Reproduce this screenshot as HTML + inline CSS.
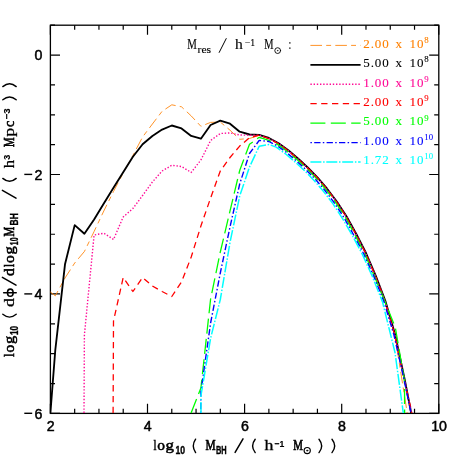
<!DOCTYPE html>
<html><head><meta charset="utf-8"><title>chart</title>
<style>html,body{margin:0;padding:0;background:#fff}svg{display:block}</style>
</head><body>
<svg width="463" height="463" viewBox="0 0 463 463" style="will-change:transform">
<rect width="463" height="463" fill="#fff"/>
<defs><clipPath id="c"><rect x="49.8" y="25.2" width="389.0" height="388.8"/></clipPath></defs>
<path d="M50.40 413.40v-9.6M50.40 25.20v9.6M74.67 413.40v-4.6M74.67 25.20v4.6M98.95 413.40v-4.6M98.95 25.20v4.6M123.22 413.40v-4.6M123.22 25.20v4.6M147.50 413.40v-9.6M147.50 25.20v9.6M171.78 413.40v-4.6M171.78 25.20v4.6M196.05 413.40v-4.6M196.05 25.20v4.6M220.33 413.40v-4.6M220.33 25.20v4.6M244.60 413.40v-9.6M244.60 25.20v9.6M268.88 413.40v-4.6M268.88 25.20v4.6M293.15 413.40v-4.6M293.15 25.20v4.6M317.43 413.40v-4.6M317.43 25.20v4.6M341.70 413.40v-9.6M341.70 25.20v9.6M365.98 413.40v-4.6M365.98 25.20v4.6M390.25 413.40v-4.6M390.25 25.20v4.6M414.53 413.40v-4.6M414.53 25.20v4.6M438.80 413.40v-9.6M438.80 25.20v9.6M50.40 25.20h4.6M438.80 25.20h-4.6M50.40 55.06h9.6M438.80 55.06h-9.6M50.40 84.92h4.6M438.80 84.92h-4.6M50.40 114.78h4.6M438.80 114.78h-4.6M50.40 144.65h4.6M438.80 144.65h-4.6M50.40 174.51h9.6M438.80 174.51h-9.6M50.40 204.37h4.6M438.80 204.37h-4.6M50.40 234.23h4.6M438.80 234.23h-4.6M50.40 264.09h4.6M438.80 264.09h-4.6M50.40 293.95h9.6M438.80 293.95h-9.6M50.40 323.82h4.6M438.80 323.82h-4.6M50.40 353.68h4.6M438.80 353.68h-4.6M50.40 383.54h4.6M438.80 383.54h-4.6M50.40 413.40h9.6M438.80 413.40h-9.6" stroke="#000" stroke-width="1.2" fill="none"/>
<rect x="50.4" y="25.2" width="388.4" height="388.2" fill="none" stroke="#000" stroke-width="1.3"/>
<g clip-path="url(#c)" stroke-linejoin="round">
<polyline points="50.4,292.0 55.3,295.8 65.0,278.0 74.7,263.0 84.4,251.5 94.1,231.5 103.8,211.0 113.5,191.5 123.2,173.0 132.9,155.5 142.6,137.0 152.4,124.0 162.1,111.3 171.8,104.8 181.5,106.8 191.2,115.9 200.9,126.3 210.6,122.4 220.3,122.0 230.0,130.2 239.7,139.3 249.5,138.5 259.2,135.3 268.7,138.4 278.4,143.6 288.0,150.6 297.7,158.8 307.4,167.8 317.1,177.7 326.8,189.0 336.5,201.7 346.2,216.7 355.9,234.2 365.6,253.2 375.3,275.7 385.0,301.1 395.0,336.0 404.7,397.0 407.2,413.0" fill="none" stroke="#ff8000" stroke-width="0.85" stroke-dasharray="11.6 4.2 4.9 4.2" />
<polyline points="50.4,413.0 55.3,350.0 65.0,264.3 74.7,225.1 84.4,233.7 94.1,219.4 103.8,203.5 113.5,187.8 123.2,172.2 132.9,156.7 142.6,144.3 152.4,136.0 162.1,129.6 171.8,125.5 181.5,128.4 191.2,135.9 200.9,138.7 210.6,125.0 220.3,120.6 230.0,123.7 239.7,131.7 249.5,134.5 259.2,134.8 268.9,138.0 278.6,143.3 288.3,150.3 298.0,158.5 307.7,167.5 317.4,177.4 327.1,188.7 336.8,201.5 346.6,216.5 356.3,234.0 366.0,253.0 375.7,275.5 385.4,301.0 395.1,334.5 404.8,380.0 411.2,413.0" fill="none" stroke="#000" stroke-width="1.85" />
<polyline points="84.0,413.0 84.4,335.0 94.1,235.0 103.8,233.2 113.5,239.5 123.2,217.0 132.9,208.5 142.6,195.5 152.4,182.0 162.1,171.0 171.8,165.3 181.5,166.5 191.2,172.4 200.9,160.0 210.6,140.5 220.3,133.5 230.0,132.9 239.7,135.0 249.5,135.2 259.2,135.2 268.8,138.3 278.4,143.6 288.1,150.5 297.8,158.7 307.5,167.7 317.2,177.6 326.9,188.9 336.6,201.7 346.3,216.7 356.0,234.1 365.7,253.1 375.4,275.6 385.1,301.1 394.8,334.6 404.5,380.1 411.5,413.0" fill="none" stroke="#ff0a96" stroke-width="1.4" stroke-dasharray="1.4 1.8" />
<polyline points="113.1,413.0 113.5,321.0 123.2,277.5 132.9,291.5 142.6,277.5 152.4,286.0 162.1,291.5 171.8,296.5 181.5,282.0 191.2,257.0 200.9,226.0 210.6,198.0 220.3,171.0 230.0,157.5 239.7,146.1 249.5,137.7 259.2,135.2 268.7,138.5 278.3,143.7 288.0,150.7 297.7,158.9 307.4,167.9 317.1,177.7 326.7,189.0 336.4,201.8 346.1,216.8 355.8,234.2 365.5,253.2 375.2,275.7 384.9,301.2 394.6,334.6 404.3,380.1 412.0,413.0" fill="none" stroke="#ff0000" stroke-width="1.3" stroke-dasharray="6.3 4.5" />
<polyline points="191.1,413.0 200.9,388.0 210.6,299.0 220.3,252.0 230.0,211.0 239.7,170.5 249.5,144.3 259.2,137.3 268.9,140.3 277.8,144.6 287.4,151.5 297.0,159.6 306.7,168.6 316.3,178.4 326.0,189.6 335.6,202.4 345.3,217.3 354.9,234.7 364.6,253.6 374.3,276.1 385.3,302.5 395.3,327.5 404.5,381.0 404.6,413.0" fill="none" stroke="#00ff00" stroke-width="1.3" stroke-dasharray="15 5.4" />
<polyline points="200.7,413.0 200.9,392.0 210.6,323.0 220.3,273.0 230.0,227.0 239.7,184.0 249.5,153.5 259.2,140.4 268.9,141.5 277.1,145.7 286.6,152.5 296.1,160.6 305.8,169.5 315.4,179.3 325.0,190.5 334.5,203.1 344.2,217.9 353.9,235.3 363.8,254.0 373.8,276.3 383.9,301.5 393.9,334.8 404.2,380.1 411.0,413.0" fill="none" stroke="#0000ff" stroke-width="1.4" stroke-dasharray="1.5 2.3 6.3 2.3" />
<polyline points="201.0,413.0 200.9,396.0 210.6,338.3 220.3,299.5 230.0,242.5 239.7,196.0 249.5,167.0 259.2,146.2 268.9,144.5 276.2,147.1 285.5,153.8 295.0,161.9 304.6,170.7 314.1,180.4 323.6,191.5 333.2,204.1 342.7,218.8 352.6,236.0 362.5,254.6 372.5,276.8 382.5,301.9 395.0,352.5 403.3,413.0" fill="none" stroke="#00ffff" stroke-width="1.5" stroke-dasharray="11 1.7 1.5 1.7" />
</g>
<line x1="310.4" y1="45.4" x2="360.6" y2="45.4" stroke="#ff8000" stroke-width="0.85" stroke-dasharray="11.6 4.2 4.9 4.2"/>
<g font-family="'Liberation Serif', serif" font-size="13" fill="#ff8000" stroke="#ff8000" stroke-width="0.1">
<text x="363.2" y="47.6" textLength="25.6" lengthAdjust="spacing" >2.00</text>
<text x="395.5" y="47.6" textLength="6.4" lengthAdjust="spacingAndGlyphs" >x</text>
<text x="409.6" y="47.6" textLength="13.8" lengthAdjust="spacing" >10</text>
<text x="424.3" y="42.8" textLength="4.4" lengthAdjust="spacingAndGlyphs" font-size="9" >8</text>
</g>
<line x1="310.4" y1="64.8" x2="360.6" y2="64.8" stroke="#000" stroke-width="1.85"/>
<g font-family="'Liberation Serif', serif" font-size="13" fill="#000" stroke="#000" stroke-width="0.1">
<text x="363.2" y="67.0" textLength="25.6" lengthAdjust="spacing" >5.00</text>
<text x="395.5" y="67.0" textLength="6.4" lengthAdjust="spacingAndGlyphs" >x</text>
<text x="409.6" y="67.0" textLength="13.8" lengthAdjust="spacing" >10</text>
<text x="424.3" y="62.2" textLength="4.4" lengthAdjust="spacingAndGlyphs" font-size="9" >8</text>
</g>
<line x1="310.4" y1="84.3" x2="360.6" y2="84.3" stroke="#ff0a96" stroke-width="1.4" stroke-dasharray="1.4 1.8"/>
<g font-family="'Liberation Serif', serif" font-size="13" fill="#ff0a96" stroke="#ff0a96" stroke-width="0.1">
<text x="363.2" y="86.5" textLength="25.6" lengthAdjust="spacing" >1.00</text>
<text x="395.5" y="86.5" textLength="6.4" lengthAdjust="spacingAndGlyphs" >x</text>
<text x="409.6" y="86.5" textLength="13.8" lengthAdjust="spacing" >10</text>
<text x="424.3" y="81.7" textLength="4.4" lengthAdjust="spacingAndGlyphs" font-size="9" >9</text>
</g>
<line x1="310.4" y1="103.7" x2="360.6" y2="103.7" stroke="#ff0000" stroke-width="1.3" stroke-dasharray="6.3 4.5"/>
<g font-family="'Liberation Serif', serif" font-size="13" fill="#ff0000" stroke="#ff0000" stroke-width="0.1">
<text x="363.2" y="105.9" textLength="25.6" lengthAdjust="spacing" >2.00</text>
<text x="395.5" y="105.9" textLength="6.4" lengthAdjust="spacingAndGlyphs" >x</text>
<text x="409.6" y="105.9" textLength="13.8" lengthAdjust="spacing" >10</text>
<text x="424.3" y="101.1" textLength="4.4" lengthAdjust="spacingAndGlyphs" font-size="9" >9</text>
</g>
<line x1="310.4" y1="123.1" x2="360.6" y2="123.1" stroke="#00ff00" stroke-width="1.3" stroke-dasharray="15 5.4"/>
<g font-family="'Liberation Serif', serif" font-size="13" fill="#00ff00" stroke="#00ff00" stroke-width="0.1">
<text x="363.2" y="125.3" textLength="25.6" lengthAdjust="spacing" >5.00</text>
<text x="395.5" y="125.3" textLength="6.4" lengthAdjust="spacingAndGlyphs" >x</text>
<text x="409.6" y="125.3" textLength="13.8" lengthAdjust="spacing" >10</text>
<text x="424.3" y="120.5" textLength="4.4" lengthAdjust="spacingAndGlyphs" font-size="9" >9</text>
</g>
<line x1="310.4" y1="142.6" x2="360.6" y2="142.6" stroke="#0000ff" stroke-width="1.4" stroke-dasharray="1.5 2.3 6.3 2.3"/>
<g font-family="'Liberation Serif', serif" font-size="13" fill="#0000ff" stroke="#0000ff" stroke-width="0.1">
<text x="363.2" y="144.8" textLength="25.6" lengthAdjust="spacing" >1.00</text>
<text x="395.5" y="144.8" textLength="6.4" lengthAdjust="spacingAndGlyphs" >x</text>
<text x="409.6" y="144.8" textLength="13.8" lengthAdjust="spacing" >10</text>
<text x="424.3" y="139.9" textLength="8.8" lengthAdjust="spacingAndGlyphs" font-size="9" >10</text>
</g>
<line x1="310.4" y1="162.0" x2="360.6" y2="162.0" stroke="#00ffff" stroke-width="1.5" stroke-dasharray="11 1.7 1.5 1.7"/>
<g font-family="'Liberation Serif', serif" font-size="13" fill="#00ffff" stroke="#00ffff" stroke-width="0.1">
<text x="363.2" y="164.2" textLength="25.6" lengthAdjust="spacing" >1.72</text>
<text x="395.5" y="164.2" textLength="6.4" lengthAdjust="spacingAndGlyphs" >x</text>
<text x="409.6" y="164.2" textLength="13.8" lengthAdjust="spacing" >10</text>
<text x="424.3" y="159.4" textLength="8.8" lengthAdjust="spacingAndGlyphs" font-size="9" >10</text>
</g>
<g font-family="'Liberation Serif', serif" font-size="14" fill="#000" stroke="#000" stroke-width="0.12" stroke-linecap="round">
<text x="187.3" y="49.4" textLength="9.6" lengthAdjust="spacingAndGlyphs" >M</text>
<text x="197.5" y="53.3" textLength="13.6" lengthAdjust="spacingAndGlyphs" font-size="10" >res</text>
<line x1="219.2" y1="52.4" x2="226.2" y2="38.6" stroke-width="1.0"/>
<text x="235.0" y="49.4" textLength="7.8" lengthAdjust="spacingAndGlyphs" >h</text>
<text x="244.8" y="45.7" textLength="10.4" lengthAdjust="spacingAndGlyphs" font-size="9.5" >−1</text>
<text x="264.3" y="49.4" textLength="9.3" lengthAdjust="spacingAndGlyphs" >M</text>
<circle cx="277.7" cy="50.6" r="2.9" fill="none" stroke-width="0.9"/><circle cx="277.7" cy="50.6" r="0.6"/>
<text x="288.6" y="49.4" textLength="2.8" lengthAdjust="spacingAndGlyphs" >:</text>
</g>
<g font-family="'Liberation Sans', sans-serif" font-size="14.2" fill="#000" stroke="#000" stroke-width="0.5">
<text x="50.7" y="431.4" text-anchor="middle">2</text>
<text x="147.8" y="431.4" text-anchor="middle">4</text>
<text x="244.9" y="431.4" text-anchor="middle">6</text>
<text x="342.0" y="431.4" text-anchor="middle">8</text>
<text x="439.1" y="431.4" text-anchor="middle">10</text>
<text x="42.5" y="60.4" text-anchor="end">0</text>
<text x="42.5" y="179.8" text-anchor="end">2</text>
<line x1="24.3" x2="32.2" y1="174.4" y2="174.4" stroke-width="1.4"/>
<text x="42.5" y="299.3" text-anchor="end">4</text>
<line x1="24.3" x2="32.2" y1="293.9" y2="293.9" stroke-width="1.4"/>
<text x="42.5" y="418.7" text-anchor="end">6</text>
<line x1="24.3" x2="32.2" y1="413.3" y2="413.3" stroke-width="1.4"/>
</g>
<g font-family="'Liberation Serif', serif" font-size="15.5" fill="#000" stroke="#000" stroke-width="0.55" stroke-linecap="round"><text x="153.4" y="450.0" textLength="3.0" lengthAdjust="spacingAndGlyphs" >l</text><text x="157.2" y="450.0" textLength="7.7" lengthAdjust="spacingAndGlyphs" >o</text><text x="165.6" y="450.0" textLength="8.4" lengthAdjust="spacingAndGlyphs" >g</text><text x="175.4" y="453.9" textLength="9.6" lengthAdjust="spacingAndGlyphs" font-size="10" font-family="'Liberation Sans', sans-serif" font-weight="bold" stroke-width="0.35">10</text><path d="M195.6 439.2Q191.0 446.0 195.6 452.6" fill="none" stroke-width="1.4"/><text x="205.5" y="450.0" textLength="10.1" lengthAdjust="spacingAndGlyphs"  stroke-width="0.7">M</text><text x="216.0" y="453.9" textLength="10.7" lengthAdjust="spacingAndGlyphs" font-size="10" font-family="'Liberation Sans', sans-serif" font-weight="bold" stroke-width="0.35">BH</text><line x1="235.1" y1="452.4" x2="243.0" y2="438.8" stroke-width="1.5"/><path d="M255.2 439.2Q250.0 446.0 255.2 452.6" fill="none" stroke-width="1.4"/><text x="264.5" y="450.0" textLength="8.9" lengthAdjust="spacingAndGlyphs"  stroke-width="0.3">h</text><text x="274.6" y="446.6" textLength="9.8" lengthAdjust="spacingAndGlyphs" font-size="9.5" font-family="'Liberation Sans', sans-serif" font-weight="bold" stroke-width="0.15">−1</text><text x="293.3" y="450.0" textLength="9.7" lengthAdjust="spacingAndGlyphs"  stroke-width="0.7">M</text><circle cx="307.2" cy="450.6" r="3.1" fill="none" stroke-width="1.2"/><circle cx="307.2" cy="450.6" r="0.7"/><path d="M319.0 439.2Q324.4 446.0 319.0 452.6" fill="none" stroke-width="1.4"/><path d="M332.0 439.2Q337.4 446.0 332.0 452.6" fill="none" stroke-width="1.4"/></g>
<g transform="translate(13.6,357.2) rotate(-90)"><g font-family="'Liberation Serif', serif" font-size="15.5" fill="#000" stroke="#000" stroke-width="0.55" stroke-linecap="round"><text x="0.1" y="0.0" textLength="3.7" lengthAdjust="spacingAndGlyphs" >l</text><text x="4.6" y="0.0" textLength="7.7" lengthAdjust="spacingAndGlyphs" >o</text><text x="13.1" y="0.0" textLength="8.3" lengthAdjust="spacingAndGlyphs" >g</text><text x="22.1" y="3.9" textLength="9.0" lengthAdjust="spacingAndGlyphs" font-size="10" font-family="'Liberation Sans', sans-serif" font-weight="bold" stroke-width="0.35">10</text><path d="M42.9 -10.8Q37.3 -4.0 42.9 2.6" fill="none" stroke-width="1.4"/><text x="50.1" y="0.0" textLength="8.9" lengthAdjust="spacingAndGlyphs"  stroke-width="0.3">d</text><ellipse cx="64.5" cy="-3.3" rx="3.6" ry="2.8" fill="none" stroke-width="1.6"/><line x1="64.5" x2="64.5" y1="-9.9" y2="2.6" stroke-width="1.6"/><line x1="72.0" y1="2.4" x2="79.8" y2="-11.2" stroke-width="1.5"/><text x="81.2" y="0.0" textLength="7.7" lengthAdjust="spacingAndGlyphs" >d</text><text x="90.3" y="0.0" textLength="3.0" lengthAdjust="spacingAndGlyphs" >l</text><text x="94.1" y="0.0" textLength="7.7" lengthAdjust="spacingAndGlyphs" >o</text><text x="102.7" y="0.0" textLength="8.3" lengthAdjust="spacingAndGlyphs" >g</text><text x="112.0" y="3.9" textLength="7.7" lengthAdjust="spacingAndGlyphs" font-size="10" font-family="'Liberation Sans', sans-serif" font-weight="bold" stroke-width="0.35">10</text><text x="120.6" y="0.0" textLength="9.7" lengthAdjust="spacingAndGlyphs"  stroke-width="0.7">M</text><text x="131.8" y="3.9" textLength="12.2" lengthAdjust="spacingAndGlyphs" font-size="10" font-family="'Liberation Sans', sans-serif" font-weight="bold" stroke-width="0.35">BH</text><line x1="159.0" y1="2.4" x2="166.9" y2="-11.2" stroke-width="1.5"/><path d="M178.8 -10.8Q173.0 -4.0 178.8 2.6" fill="none" stroke-width="1.4"/><text x="189.0" y="0.0" textLength="8.3" lengthAdjust="spacingAndGlyphs"  stroke-width="0.3">h</text><text x="197.5" y="-3.4" textLength="5.0" lengthAdjust="spacingAndGlyphs" font-size="9.5" font-family="'Liberation Sans', sans-serif" font-weight="bold" stroke-width="0.15">3</text><text x="210.1" y="0.0" textLength="9.6" lengthAdjust="spacingAndGlyphs"  stroke-width="0.7">M</text><text x="220.5" y="0.0" textLength="8.9" lengthAdjust="spacingAndGlyphs"  stroke-width="0.3">p</text><text x="230.2" y="0.0" textLength="6.3" lengthAdjust="spacingAndGlyphs" >c</text><text x="237.9" y="-3.4" textLength="11.0" lengthAdjust="spacingAndGlyphs" font-size="9.5" font-family="'Liberation Sans', sans-serif" font-weight="bold" stroke-width="0.15">−3</text><path d="M257.4 -10.8Q263.2 -4.0 257.4 2.6" fill="none" stroke-width="1.4"/><path d="M270.6 -10.8Q276.4 -4.0 270.6 2.6" fill="none" stroke-width="1.4"/></g></g>
</svg>
</body></html>
